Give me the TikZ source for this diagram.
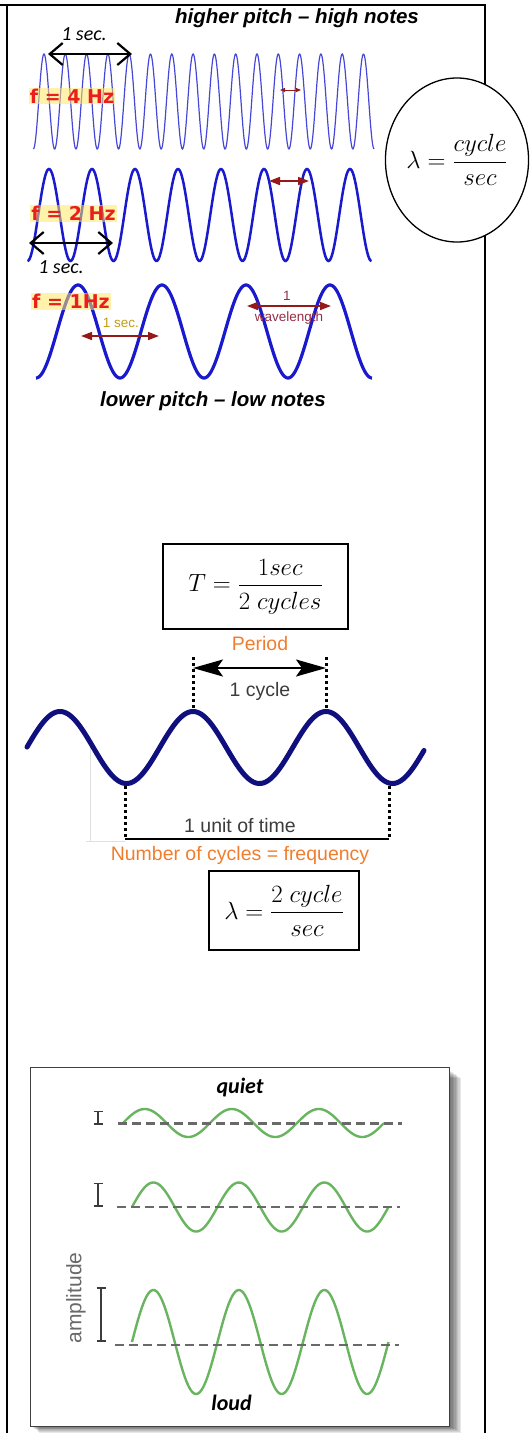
\documentclass[tikz,border=0pt]{standalone}
\usepackage{fontspec}
\usepackage{amsmath}
\setsansfont{Liberation Sans}
\newfontfamily\calib{Carlito}
\newfontfamily\dejav{DejaVu Sans}
\usetikzlibrary{arrows.meta,shapes.geometric}
\definecolor{wblue}{RGB}{70,70,215}
\definecolor{wdeep}{RGB}{25,25,205}
\definecolor{fred}{RGB}{235,30,30}
\definecolor{hyel}{RGB}{255,232,100}
\definecolor{mred}{RGB}{150,25,25}
\definecolor{gold}{RGB}{195,155,20}
\definecolor{wine}{RGB}{150,45,70}
\definecolor{navyw}{RGB}{15,15,125}
\definecolor{orng}{RGB}{240,125,45}
\definecolor{dgray}{RGB}{60,60,60}
\definecolor{lgreen}{RGB}{105,180,95}
\definecolor{midgray}{RGB}{105,105,105}

\begin{document}
\begin{tikzpicture}[x=1pt,y=-1pt,
 head/.style={font=\fontsize{20.5}{24}\selectfont\sffamily\bfseries\itshape},
 secl/.style={font=\fontsize{20}{24}\selectfont\calib\itshape},
 freq/.style={text=fred,font=\fontsize{19}{22}\selectfont\dejav\bfseries,
 fill=hyel,fill opacity=0.55,text opacity=1,inner sep=1pt},
 lab/.style={font=\fontsize{19.5}{23}\selectfont\sffamily},
 small/.style={font=\fontsize{13.5}{16}\selectfont\sffamily},
 fbox/.style={draw,line width=1.3pt,fill=white,font=\fontsize{25}{30}\selectfont},
 barr/.style={{Straight Barb[length=13pt,width=22pt]}-{Straight Barb[length=13pt,width=22pt]},line width=2.2pt},
 rarr/.style={{Triangle[length=11pt,width=8pt]}-{Triangle[length=11pt,width=8pt]},line width=1.6pt,mred},
 parr/.style={{Stealth[length=30pt,width=17pt,inset=6pt]}-{Stealth[length=30pt,width=17pt,inset=6pt]},line width=2pt},
 dots/.style={dash pattern=on 3pt off 3pt,line width=3pt},
 gwave/.style={lgreen,line width=2.4pt},
 zero/.style={midgray,dash pattern=on 9pt off 5pt,line width=2.2pt},
 abar/.style={{Bar[width=9pt]}-{Bar[width=9pt]},line width=1.6pt,dgray}]
\useasboundingbox (0,0) rectangle (530,1433);
% page frame
\draw[line width=2pt] (0,5) -- (486,5);
\draw[line width=2pt] (7,4) -- (7,1433);
\draw[line width=2pt] (485,4) -- (485,1433);

% ---- pitch
\node[head] (hi) at (297,18.5) {higher pitch – high notes};
\draw[wblue,line width=1.2pt] plot[domain=33.3:374,samples=700] (\x,{101.5-47.5*cos(360/21.3*(\x-44))});
\draw[wdeep,line width=2.5pt] plot[domain=27.5:371.5,samples=400] (\x,{215-46*cos(360/43*(\x-49))});
\draw[wdeep,line width=3.2pt] plot[domain=36:372,samples=300] (\x,{331.5-46.5*cos(360/84*(\x-78))});

\node[freq] (f4) at (72,96) {f = 4 Hz};
\node[freq] (f2) at (73.5,213.7) {f = 2 Hz};
\node[freq] (f1) at (71,301.5) {f = 1Hz};

\coordinate (s4a) at (48,54); \coordinate (s4b) at (132,54);
\draw[barr] (s4a) -- (s4b);
\node[secl] (s4) at (84,34) {1 sec.};
\coordinate (s2a) at (29,243); \coordinate (s2b) at (113,243);
\draw[barr] (s2a) -- (s2b);
\node[secl] (s2) at (61,267) {1 sec.};

\coordinate (t4a) at (280,90); \coordinate (t4b) at (301,90);
\draw[mred,line width=1pt,{Triangle[length=5pt,width=4pt]}-{Triangle[length=5pt,width=4pt]}] (t4a) -- (t4b);
\coordinate (t2a) at (269,181); \coordinate (t2b) at (309,181);
\draw[rarr] (t2a) -- (t2b);
\coordinate (t1a) at (81,336); \coordinate (t1b) at (159,336);
\draw[rarr] (t1a) -- (t1b);
\node[small,text=gold] (s1) at (121,322.5) {1 sec.};
\coordinate (wla) at (247,306); \coordinate (wlb) at (331,306);
\draw[rarr] (wla) -- (wlb);
\node[small,text=wine] (one) at (287,296) {1};
\node[small,text=wine] (wl) at (289,318) {wavelength};

\node[head] (lo) at (213,401) {lower pitch – low notes};

\node[ellipse,draw,line width=1.3pt,fill=white,minimum width=139pt,minimum height=164pt,
 inner sep=0pt,font=\fontsize{23}{27}\selectfont] (ell) at (457,160) {$\lambda=\dfrac{cycle}{sec}$};

% ---- period
\node[fbox,minimum width=185pt,minimum height=85pt] (tbox) at (255.5,586.5) {$T=\dfrac{1sec}{2\;cycles}$};
\node[lab,text=orng] (per) at (260,644) {Period};
\coordinate (pa) at (193,668); \coordinate (pb) at (326,668);
\draw[parr] (pa) -- (pb);
\node[lab,text=dgray] (cyc) at (260,691) {1 cycle};
\draw[dots] (193,657) -- (193,709);
\draw[dots] (326,657) -- (326,709);

\draw[black!12,line width=0.7pt] (90,745) -- (90,841) (86,841) -- (125,841);
\draw[navyw,line width=5pt,line cap=round] plot[domain=27:424,samples=300] (\x,{747.5-36*cos(360/133*(\x-193))});
\coordinate (ua) at (125,839); \coordinate (ub) at (389,839);
\draw[dots] (125,786) -- (ua);
\draw[dots] (389,786) -- (ub);
\draw[line width=2.5pt] (ua) -- (ub);
\node[lab,text=dgray] (unit) at (240,826) {1 unit of time};
\node[lab,text=orng] (nfreq) at (240,855.5) {Number of cycles = frequency};
\node[fbox,minimum width=150pt,minimum height=79pt] (lbox) at (284,910.5) {$\lambda=\dfrac{2\;cycle}{sec}$};

% ---- amplitude
\foreach \d in {1,...,8}
 \fill[black,opacity=0.09] (31+\d,1070+\d) rectangle (450+1.4*\d,1426+0.85*\d);
\draw[black!75,line width=1pt,fill=white] (30.4,1067.6) rectangle (449.6,1426);
\node[head,font=\fontsize{22}{26}\selectfont\calib\bfseries\itshape] (qt) at (240,1087) {quiet};
\draw[gwave] plot[domain=123:384,samples=200] (\x,{1123-14*sin(360/87*(\x-123))});
\draw[gwave] plot[domain=132:388.5,samples=200] (\x,{1207-24.5*sin(360/85.5*(\x-132))});
\draw[gwave] plot[domain=132:388.5,samples=200] (\x,{1342-52*sin(360/85.5*(\x-132))});
\draw[zero] (118,1123.4) -- (402,1123.4);
\draw[zero] (117,1207) -- (400,1207);
\draw[zero] (115,1344.7) -- (399,1344.7);
\draw[abar] (98,1110.5) -- (98,1125);
\draw[abar] (98,1182.5) -- (98,1207);
\draw[abar] (101,1287) -- (101,1342);
\node[lab,text=midgray,rotate=90,font=\fontsize{21}{25}\selectfont\sffamily] (amp) at (76,1298) {amplitude};
\node[head,font=\fontsize{22}{26}\selectfont\calib\bfseries\itshape] (ld) at (231.6,1403) {loud};
\end{tikzpicture}
\end{document}
